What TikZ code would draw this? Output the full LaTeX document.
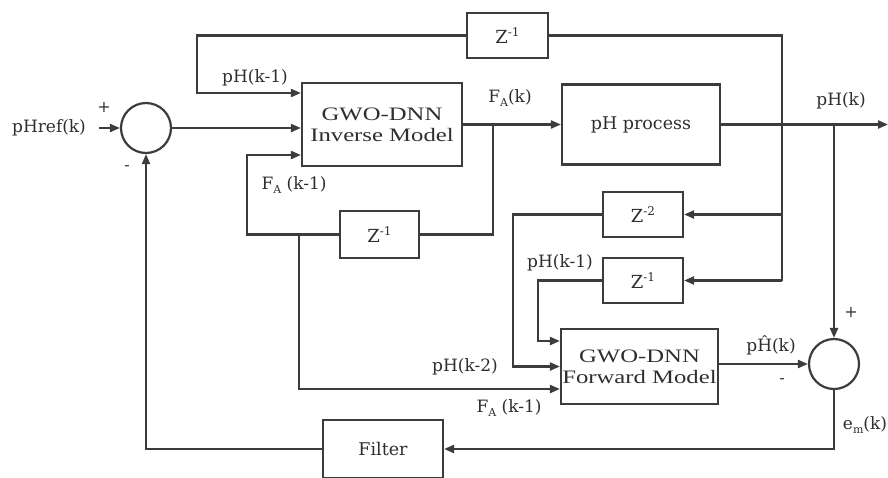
\documentclass[tikz,border=0pt]{standalone}
\usepackage{fontspec}
\usetikzlibrary{arrows.meta,calc}
\newfontfamily\lbl{DejaVu Serif}
\newfontfamily\gwo[FakeStretch=1.3]{Liberation Serif}
\newcommand\subtx[1]{\raisebox{-0.55ex}{\fontsize{11}{11}\selectfont #1}}
\newcommand\suptx[1]{\raisebox{0.75ex}{\fontsize{12}{12}\selectfont #1}}
\definecolor{ln}{HTML}{3C3C3C}
\definecolor{tx}{HTML}{2E2E2E}
\tikzset{
  wire/.style={draw=ln, line width=2.2pt},
  arr/.style={wire, -{Triangle[length=10pt,width=8pt]}},
  blk/.style={draw=ln, line width=2.2pt, rectangle, inner sep=0pt, text=tx},
  sumc/.style={draw=ln, line width=2.2pt, circle, minimum size=50pt, inner sep=0pt},
  lab/.style={text=tx, font=\lbl\fontsize{17}{19}\selectfont, inner sep=0pt},
  sgn/.style={text=tx, font=\lbl\fontsize{16}{18}\selectfont, inner sep=0pt},
  zt/.style={blk, font=\lbl\fontsize{18}{20}\selectfont},
}
\begin{document}
\begin{tikzpicture}[x=1pt,y=-1pt]
\useasboundingbox (0,0) rectangle (888,477);
% blocks
\node[sumc] (s1) at (146,128) {};
\node[blk, minimum width=160pt, minimum height=83pt, align=center, font=\gwo\fontsize{19}{21}\selectfont] (inv) at (382,124.5) {GWO-DNN\\Inverse Model};
\node[blk, minimum width=158pt, minimum height=80pt, font=\lbl\fontsize{17.5}{19}\selectfont] (proc) at (641,124.5) {pH process};
\node[zt, minimum width=81pt, minimum height=45pt] (zt) at (507.5,35.5) {Z\suptx{-1}};
\node[zt, minimum width=79pt, minimum height=47pt] (zm) at (379.5,234.5) {Z\suptx{-1}};
\node[zt, minimum width=80pt, minimum height=45pt] (z2) at (643,214.5) {Z\suptx{-2}};
\node[zt, minimum width=80pt, minimum height=45pt] (zl) at (643,280.5) {Z\suptx{-1}};
\node[blk, minimum width=157pt, minimum height=75pt, align=center, font=\gwo\fontsize{19}{21}\selectfont] (fwd) at (639.5,366.5) {GWO-DNN\\Forward Model};
\node[sumc] (s2) at (834,364) {};
\node[blk, minimum width=120pt, minimum height=58pt, font=\lbl\fontsize{17.5}{19}\selectfont] (filt) at (383,449) {Filter};
% junction coordinates
\coordinate (refin) at (99,128);
\coordinate (fa) at (493,124.5);
\coordinate (out) at (888,124.5);
\coordinate (tapB) at (834,124.5);
\coordinate (fb) at (299,234.5);
% connectors
\draw[arr] (refin) -- (s1.west);
\draw[arr] (s1.east) -- (s1.east -| inv.west);
\draw[arr] (zt.west) -- (197,35.5) -- (197,93) -- ([yshift=31.5pt]inv.west);
\draw[arr] (inv.east) -- (proc.west);
\draw[wire] (fa) -- (fa |- zm.east) -- (zm.east);
\draw[arr] (zm.west) -- (247,234.5) -- (247,155) -- ([yshift=-30.5pt]inv.west);
\draw[arr] (fb) -- (299,389) -- ([yshift=-22.5pt]fwd.west);
\draw[arr] (proc.east) -- (out);
\draw[wire] (zt.east) -- (782,35.5) -- (782,280.5);
\draw[arr] (782,214.5) -- (z2.east);
\draw[arr] (782,280.5) -- (zl.east);
\draw[arr] (tapB) -- (s2.north);
\draw[arr] (z2.west) -- (513,214.5) -- (513,366.5) -- (fwd.west);
\draw[arr] (zl.west) -- (538,280.5) -- (538,341) -- ([yshift=25.5pt]fwd.west);
\draw[arr] (fwd.east |- s2.west) -- (s2.west);
\draw[arr] (s2.south) -- (834,449) -- (filt.east);
\draw[arr] (filt.west) -- (146,449) -- (s1.south);
% labels
\node[lab] (l1) at (49,128) {pHref(k)};
\node[sgn] (p1) at (104,107) {+};
\node[sgn] (m1) at (127,168) {-};
\node[lab] (l2) at (255,78) {pH(k-1)};
\node[lab] (l3) at (294,185) {F\subtx{A} (k-1)};
\node[lab] (l4) at (510,98) {F\subtx{A}(k)};
\node[lab] (l5) at (841,101) {pH(k)};
\node[lab] (l6) at (560,263) {pH(k-1)};
\node[lab] (l7) at (465,367) {pH(k-2)};
\node[lab] (l8) at (509,408) {F\subtx{A} (k-1)};
\node[lab] (l9) at (771,345) {p\^H(k)};
\node[sgn] (p2) at (851,312) {+};
\node[sgn] (m2) at (782,381) {-};
\node[lab] (l10) at (865,425) {e\subtx{m}(k)};
\end{tikzpicture}
\end{document}
